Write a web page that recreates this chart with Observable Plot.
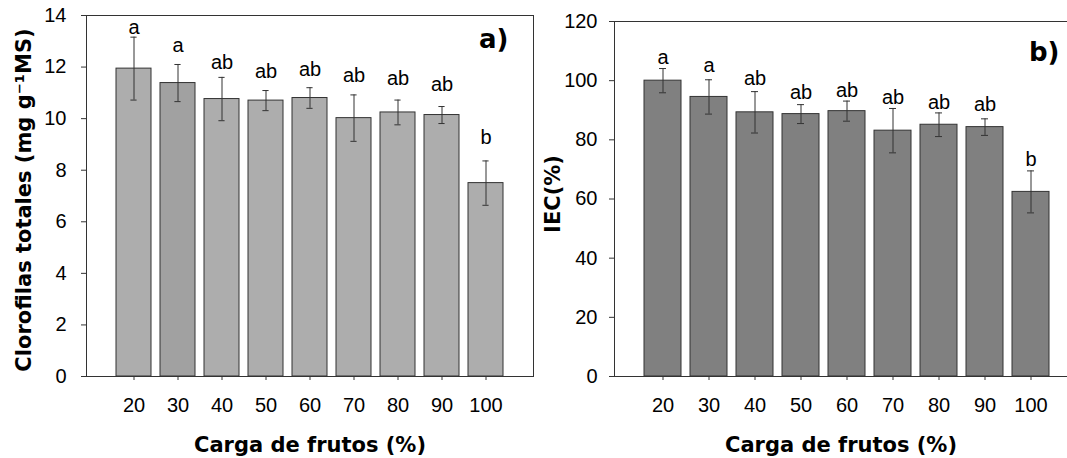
<!DOCTYPE html>
<html>
<head>
<meta charset="utf-8">
<script src="https://cdn.jsdelivr.net/npm/d3@7"></script>
<script src="https://cdn.jsdelivr.net/npm/@observablehq/plot@0.6"></script>
<style>
  html, body { margin: 0; padding: 0; background: #fff; }
  #wrap { width: 1067px; height: 458px; overflow: hidden; display: flex; }
  #wrap svg { display: block; flex: none; }
</style>
</head>
<body>
<div id="wrap"></div>
<script>
// ---- data ----
const categories = ["20", "30", "40", "50", "60", "70", "80", "90", "100"];

const chloroMean = [11.94, 11.38, 10.76, 10.70, 10.80, 10.02, 10.24, 10.14, 7.50];
const chloroErr  = [1.22, 0.72, 0.84, 0.39, 0.40, 0.90, 0.48, 0.33, 0.86];
const chloroLetters = ["a", "a", "ab", "ab", "ab", "ab", "ab", "ab", "b"];
const chloroLetterY = [13.30, 12.57, 11.94, 11.57, 11.64, 11.42, 11.30, 11.09, 9.03];
const chloroTicks = [0, 2, 4, 6, 8, 10, 12, 14];

const iecMean = [100.0, 94.5, 89.3, 88.7, 89.7, 83.1, 85.1, 84.3, 62.4];
const iecErr  = [4.1, 5.8, 7.0, 3.2, 3.4, 7.5, 4.0, 2.8, 7.1];
const iecLetters = ["a", "a", "ab", "ab", "ab", "ab", "ab", "ab", "b"];
const iecLetterY = [105.6, 103.0, 98.6, 93.8, 94.4, 92.1, 90.4, 89.9, 71.3];
const iecTicks = [0, 20, 40, 60, 80, 100, 120];

const xTitle = "Carga de frutos (%)";
const yTitleA = "Clorofilas totales (mg g\u207B\u00B9MS)";
const yTitleB = "IEC(%)";

const tickFont = "'Liberation Sans', Arial, sans-serif";
const titleFont = "'DejaVu Sans', sans-serif";

function panel(o) {
  const rows = categories.map((c, i) => ({
    cat: c, v: o.mean[i], e: o.err[i], letter: o.letters[i], ly: o.letterY[i], i
  }));
  return Plot.plot({
    width: o.width,
    height: 458,
    marginLeft: o.marginLeft,
    marginRight: o.marginRight,
    marginTop: o.marginTop,
    marginBottom: 82,
    style: {fontFamily: tickFont, fontSize: "20px", color: "#000", background: "#fff", overflow: "visible"},
    x: {domain: categories, paddingInner: 0.2, paddingOuter: 0.6, label: null, axis: null},
    y: {domain: o.ydomain, label: null, axis: null},
    marks: [
      Plot.barY(rows, {x: "cat", y: "v", fill: o.fill, stroke: "#333", strokeWidth: 1}),
      Plot.ruleX(rows, {x: "cat", y1: d => d.v - d.e, y2: d => d.v + d.e, stroke: "#333", strokeWidth: 1}),
      Plot.tickY(rows, {x: "cat", y: d => d.v + d.e, insetLeft: o.capInset, insetRight: o.capInset, stroke: "#333", strokeWidth: 1}),
      Plot.tickY(rows, {x: "cat", y: d => d.v - d.e, insetLeft: o.capInset, insetRight: o.capInset, stroke: "#333", strokeWidth: 1}),
      Plot.text(rows, {x: "cat", y: "ly", text: "letter", lineAnchor: "bottom", fontSize: 20, fill: "#000"}),
      Plot.frame({stroke: "#333", strokeWidth: 1}),
      Plot.axisY({ticks: o.ticks, tickSize: 5, tickPadding: o.yPad, fontSize: 20, label: null, stroke: "#333"}),
      Plot.axisX({tickSize: 4, tickPadding: 17, fontSize: 20, label: null, stroke: "#333"}),
      Plot.text([o.ytitle], {text: d => d, frameAnchor: "left", textAnchor: "middle", lineAnchor: "middle",
        rotate: -90, dx: o.ytDx, dy: o.ytDy, fontFamily: titleFont, fontWeight: "bold", fontSize: 21, fill: "#000"}),
      Plot.text([xTitle], {text: d => d, frameAnchor: "bottom", textAnchor: "middle", lineAnchor: "bottom",
        dy: 75, dx: o.xtDx, fontFamily: titleFont, fontWeight: "bold", fontSize: 21, fill: "#000"}),
      Plot.text([o.tag], {text: d => d, frameAnchor: "top-right", textAnchor: "end", lineAnchor: "bottom",
        dx: o.tagDx, dy: o.tagDy, fontFamily: titleFont, fontWeight: "bold", fontSize: 26, fill: "#000"})
    ]
  });
}

const left = panel({
  width: 535, marginLeft: 86, marginRight: 2, marginTop: 15,
  mean: chloroMean, err: chloroErr, letters: chloroLetters, letterY: chloroLetterY,
  ydomain: [0, 14], ticks: chloroTicks, yPad: 15,
  fill: d => d.i === 1 ? "#a1a1a1" : "#adadad",
  capInset: 14.4,
  ytitle: yTitleA, ytDx: -62, ytDy: 4, xtDx: 0,
  tag: "a)", tagDx: -25, tagDy: 32
});

const right = panel({
  width: 544, marginLeft: 79, marginRight: 0, marginTop: 21,
  mean: iecMean, err: iecErr, letters: iecLetters, letterY: iecLetterY,
  ydomain: [0, 120], ticks: iecTicks, yPad: 12,
  fill: "#808080",
  capInset: 15,
  ytitle: yTitleB, ytDx: -61, ytDy: -5, xtDx: -6,
  tag: "b)", tagDx: -20, tagDy: 39
});

document.getElementById("wrap").append(left, right);
</script>
</body>
</html>
